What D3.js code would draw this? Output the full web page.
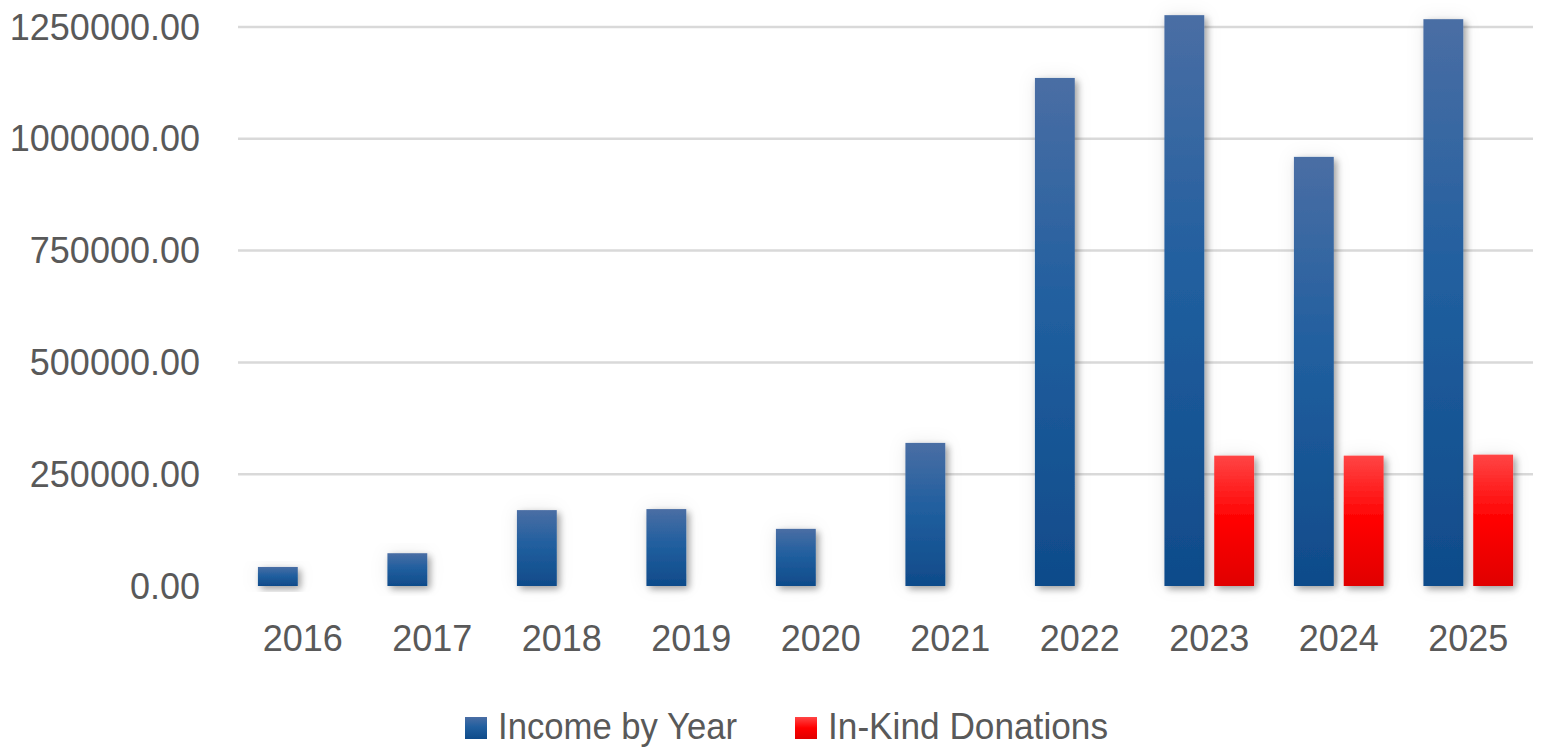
<!DOCTYPE html>
<html lang="en">
<head>
<meta charset="utf-8">
<title>Income by Year</title>
<style type="text/css">
  body { margin: 0; padding: 0; background: #fff; }
  svg { display: block; }
  text { font-family: "Liberation Sans", Arial, sans-serif; fill: #595959; }
</style>
<script src="https://cdn.jsdelivr.net/npm/d3@7"></script>
</head>
<body>
<div id="root"></div>
<script>
  // values
  var years = ["2016", "2017", "2018", "2019", "2020", "2021", "2022", "2023", "2024", "2025"];
  var incomeByYear = [42600, 73300, 169700, 172000, 127800, 320000, 1136100, 1276500, 959600, 1267500];
  var inKindDonations = [null, null, null, null, null, null, null, 291500, 291500, 293700];
  var yTicks = [0, 250000, 500000, 750000, 1000000, 1250000];
  var seriesNames = ["Income by Year", "In-Kind Donations"];

  var width = 1545, height = 749;
  // plot edges (note: "top" is reserved on window, so use other names)
  var plotLeft = 238, plotRight = 1533, plotTop = 27, plotBottom = 586;

  var svg = d3.select("#root").append("svg")
      .attr("width", width)
      .attr("height", height);

  var defs = svg.append("defs");

  var blue = defs.append("linearGradient").attr("id", "blueGrad")
      .attr("x1", 0).attr("y1", 0).attr("x2", 0).attr("y2", 1);
  blue.append("stop").attr("offset", "0%").attr("stop-color", "#4a6ea4");
  blue.append("stop").attr("offset", "45%").attr("stop-color", "#215f9f");
  blue.append("stop").attr("offset", "100%").attr("stop-color", "#0f4b8a");

  var red = defs.append("linearGradient").attr("id", "redGrad")
      .attr("x1", 0).attr("y1", 0).attr("x2", 0).attr("y2", 1);
  red.append("stop").attr("offset", "0%").attr("stop-color", "#ff4545");
  red.append("stop").attr("offset", "50%").attr("stop-color", "#ff0000");
  red.append("stop").attr("offset", "100%").attr("stop-color", "#e00000");

  // soft glow all round plus a darker shadow to the lower right
  var shadow = defs.append("filter").attr("id", "shadow")
      .attr("x", "-60%").attr("y", "-30%").attr("width", "220%").attr("height", "160%");
  shadow.append("feGaussianBlur").attr("in", "SourceAlpha").attr("stdDeviation", 9).attr("result", "glowBlur");
  shadow.append("feFlood").attr("flood-color", "#000").attr("flood-opacity", 0.08);
  shadow.append("feComposite").attr("in2", "glowBlur").attr("operator", "in").attr("result", "glow");
  shadow.append("feGaussianBlur").attr("in", "SourceAlpha").attr("stdDeviation", 3.5).attr("result", "dropBlur");
  shadow.append("feOffset").attr("in", "dropBlur").attr("dx", 3).attr("dy", 3).attr("result", "dropOff");
  shadow.append("feFlood").attr("flood-color", "#000").attr("flood-opacity", 0.35);
  shadow.append("feComposite").attr("in2", "dropOff").attr("operator", "in").attr("result", "drop");
  var merge = shadow.append("feMerge");
  merge.append("feMergeNode").attr("in", "glow");
  merge.append("feMergeNode").attr("in", "drop");
  merge.append("feMergeNode").attr("in", "SourceGraphic");

  var lineShadow = defs.append("filter").attr("id", "lineShadow")
      .attr("x", "-5%").attr("y", "-200%").attr("width", "110%").attr("height", "500%");
  lineShadow.append("feDropShadow")
      .attr("dx", 0).attr("dy", 2).attr("stdDeviation", 2)
      .attr("flood-color", "#000").attr("flood-opacity", 0.25);

  var x = d3.scaleBand().domain(years).range([plotLeft, plotRight]).padding(0);
  var x1 = d3.scaleBand().domain(seriesNames).range([0, x.bandwidth()])
      .paddingInner(0.2).paddingOuter(0.4);
  var y = d3.scaleLinear().domain([0, 1250000]).range([plotBottom, plotTop]);

  // gridlines
  svg.append("g").selectAll("line")
    .data(yTicks.filter(function(d) { return d > 0; }))
    .enter().append("line")
      .attr("x1", plotLeft).attr("x2", plotRight)
      .attr("y1", function(d) { return y(d); })
      .attr("y2", function(d) { return y(d); })
      .attr("stroke", "#d9d9d9")
      .attr("stroke-width", 2.5);

  // y labels
  svg.append("g").selectAll("text")
    .data(yTicks)
    .enter().append("text")
      .attr("x", 200)
      .attr("y", function(d) { return y(d) + 12.5; })
      .attr("text-anchor", "end")
      .style("font-size", "36px")
      .text(d3.format(".2f"));

  var bars = svg.append("g");

  bars.selectAll("rect.income")
    .data(years)
    .enter().append("rect")
      .attr("class", "income")
      .attr("x", function(d) { return x(d) + x1(seriesNames[0]); })
      .attr("y", function(d, i) { return y(incomeByYear[i]); })
      .attr("width", x1.bandwidth())
      .attr("height", function(d, i) { return y(0) - y(incomeByYear[i]); })
      .attr("fill", "url(#blueGrad)")
      .attr("filter", "url(#shadow)");

  bars.selectAll("rect.inkind")
    .data(years.filter(function(d, i) { return inKindDonations[i] != null; }))
    .enter().append("rect")
      .attr("class", "inkind")
      .attr("x", function(d) { return x(d) + x1(seriesNames[1]); })
      .attr("y", function(d) { return y(inKindDonations[years.indexOf(d)]); })
      .attr("width", x1.bandwidth())
      .attr("height", function(d) { return y(0) - y(inKindDonations[years.indexOf(d)]); })
      .attr("fill", "url(#redGrad)")
      .attr("filter", "url(#shadow)");

  // zero axis line
  svg.append("line")
      .attr("x1", plotLeft).attr("x2", plotRight)
      .attr("y1", y(0)).attr("y2", y(0))
      .attr("stroke", "#d9d9d9")
      .attr("stroke-width", 3)
      .attr("filter", "url(#lineShadow)");

  // x labels
  svg.append("g").selectAll("text")
    .data(years)
    .enter().append("text")
      .attr("x", function(d) { return x(d) + x.bandwidth() / 2; })
      .attr("y", 651)
      .attr("text-anchor", "middle")
      .style("font-size", "36px")
      .text(function(d) { return d; });

  // legend
  var legendItems = [
    { name: seriesNames[0], fill: "url(#blueGrad)", x: 465, w: 239 },
    { name: seriesNames[1], fill: "url(#redGrad)", x: 795, w: 280 }
  ];
  var legend = svg.append("g").selectAll("g")
    .data(legendItems)
    .enter().append("g")
      .attr("transform", function(d) { return "translate(" + d.x + "," + 717 + ")"; });
  legend.append("rect")
      .attr("width", 22).attr("height", 22)
      .attr("fill", function(d) { return d.fill; });
  legend.append("text")
      .attr("x", 33).attr("y", 22)
      .attr("textLength", function(d) { return d.w; })
      .attr("lengthAdjust", "spacingAndGlyphs")
      .style("font-size", "36px")
      .text(function(d) { return d.name; });
</script>
</body>
</html>
